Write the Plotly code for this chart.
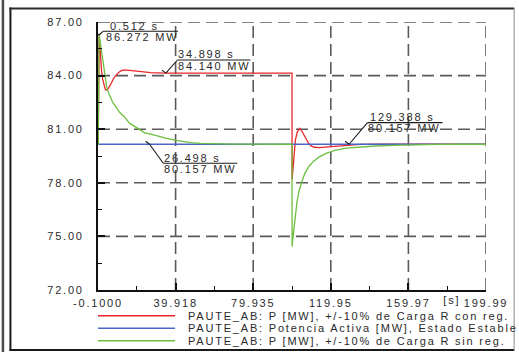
import plotly.graph_objects as go

# ---------------- data ----------------
series_names = [
    "PAUTE_AB: P [MW], +/-10% de Carga R con reg.",
    "PAUTE_AB: Potencia Activa [MW], Estado Estable",
    "PAUTE_AB: P [MW], +/-10% de Carga R sin reg.",
]

t_con = [-0.1, 0.0, 0.512, 0.8, 1.2, 1.7, 2.3, 3.0, 3.7, 4.2, 5.0, 6.0, 7.0, 8.0, 9.0,
         10.0, 11.0, 12.0, 13.5, 15.0, 18.0, 22.0, 27.0, 34.898, 60.0, 99.95,
         100.0, 100.3, 100.8, 101.7, 102.7, 103.9, 105.0, 106.0, 107.2, 108.5, 110.0,
         111.5, 114.0, 116.5, 120.0, 124.0, 129.388, 135.0, 145.0, 160.0, 199.99]
p_con = [80.157, 80.157, 86.272, 85.7, 85.0, 84.3, 83.8, 83.4, 83.22, 83.19, 83.25, 83.42,
         83.65, 83.85, 84.0, 84.13, 84.22, 84.28, 84.32, 84.31, 84.27, 84.22, 84.17, 84.14,
         84.14, 84.14,
         78.2, 78.6, 79.6, 80.4, 80.85, 81.05, 80.9, 80.68, 80.42, 80.21, 80.05,
         79.99, 79.97, 79.99, 80.04, 80.08, 80.13, 80.15, 80.157, 80.157, 80.157]

t_est = [-0.1, 199.99]
p_est = [80.157, 80.157]

t_sin = [-0.1, 0.0, 0.512, 1.0, 1.6, 2.2, 2.7, 3.5, 4.4, 5.5, 6.5, 7.5, 9.5, 11.0, 13.5,
         16.0, 18.2, 21.0, 24.0, 27.0, 30.0, 35.4, 40.0, 44.0, 48.0, 52.6, 60.0, 70.0, 99.95,
         100.0, 100.3, 100.7, 101.5, 102.5, 103.5, 104.8, 106.5, 108.5, 111.0, 114.0,
         117.5, 122.0, 128.0, 135.0, 143.0, 152.0, 162.0, 175.0, 188.0, 199.99]
p_sin = [80.157, 80.157, 86.272, 85.9, 85.3, 84.8, 84.45, 83.9, 83.35, 83.0, 82.75, 82.5,
         82.2, 81.95, 81.7, 81.35, 81.2, 81.0, 80.8, 80.72, 80.62, 80.48, 80.37, 80.3,
         80.25, 80.21, 80.18, 80.165, 80.157,
         74.43, 74.8, 75.2, 76.0, 76.9, 77.5, 78.0, 78.5, 78.9, 79.2, 79.45,
         79.65, 79.82, 79.94, 80.01, 80.06, 80.1, 80.13, 80.15, 80.157, 80.157]

x_tick_vals = [-0.1, 39.918, 79.935, 119.95, 159.97, 199.99]
x_tick_text = ["-0.1000", "39.918", "79.935", "119.95", "159.97", "199.99"]
x_unit = "[s]"
y_tick_vals = [72.0, 75.0, 78.0, 81.0, 84.0, 87.0]
y_tick_text = ["72.00", "75.00", "78.00", "81.00", "84.00", "87.00"]

label_t = [0.512, 34.898, 26.498, 129.388]
label_v = [86.272, 84.140, 80.157, 80.157]
label_t_text = ["0.512 s", "34.898 s", "26.498 s", "129.388 s"]
label_v_text = ["86.272 MW", "84.140 MW", "80.157 MW", "80.157 MW"]

# ---------------- styling / layout ----------------
W, H = 519, 352
L, T = 98.0, 22.0
PW, PH = 387.7, 268.0
R = W - L - PW
B = H - T - PH

colors = ["#e8262a", "#4a66c8", "#6cbf3e"]
FONT = "Liberation Sans, Arial, sans-serif"
TXT = "#2a2a2a"
GRID = "#5a5a5a"


def px_x(px):
    return (px - L) / PW


def px_y(py):
    return (T + PH - py) / PH


fig = go.Figure()
for t, p, c, n in zip([t_con, t_est, t_sin], [p_con, p_est, p_sin], colors, series_names):
    fig.add_trace(go.Scatter(x=t, y=p, mode="lines", name=n,
                             line=dict(color=c, width=1.3), showlegend=False,
                             hoverinfo="skip"))

shapes = []
# dashed grid (from tick lists)
for yv in y_tick_vals[1:]:
    shapes.append(dict(type="line", xref="x", yref="y", x0=x_tick_vals[0], x1=x_tick_vals[-1],
                       y0=yv, y1=yv, layer="below",
                       line=dict(color=GRID, width=1.6, dash="12px,6px")))
for xv in x_tick_vals[1:]:
    shapes.append(dict(type="line", xref="x", yref="y", x0=xv, x1=xv,
                       y0=y_tick_vals[0], y1=y_tick_vals[-1], layer="below",
                       line=dict(color=GRID, width=1.6, dash="12px,6px")))

# value labels (leader, small tick, separator, two text lines)
# (dx, dy) = separator start offset from the point in px (dy positive = downwards)
offsets = [(3.8, -3.7, 75, 6, 2), (11.6, -13.1, 73, 0, 0), (13.7, 19.0, 74, 0, 0),
           (18.4, -21.6, 75, 2, 0)]
annotations = []
for tv, vv, tt, vt, (dx, dy, ln, ind1, ind2) in zip(label_t, label_v, label_t_text,
                                                       label_v_text, offsets):
    common = dict(xref="x", yref="y", xsizemode="pixel", ysizemode="pixel",
                  xanchor=tv, yanchor=vv, layer="above")
    shapes.append(dict(type="line", x0=0, y0=0, x1=dx, y1=-dy,
                       line=dict(color="#1a1a1a", width=1.1), **common))
    shapes.append(dict(type="line", x0=-4, y0=3, x1=0, y1=0,
                       line=dict(color="#1a1a1a", width=1.1), **common))
    shapes.append(dict(type="line", x0=dx, y0=-dy, x1=dx + ln, y1=-dy,
                       line=dict(color="#1a1a1a", width=1.1), **common))
    annotations.append(dict(x=tv, y=vv, xref="x", yref="y", text=tt, showarrow=False,
                            xanchor="left", yanchor="bottom", align="left",
                            xshift=dx + ind1, yshift=-dy - 1.5, borderpad=0,
                            font=dict(family=FONT, size=11, color=TXT)))
    annotations.append(dict(x=tv, y=vv, xref="x", yref="y", text=vt, showarrow=False,
                            xanchor="left", yanchor="top", align="left",
                            xshift=dx + ind2, yshift=-dy + 1.5, borderpad=0,
                            font=dict(family=FONT, size=11, color=TXT)))

# unit label next to last x tick
annotations.append(dict(x=x_tick_vals[-1], y=y_tick_vals[0], xref="x", yref="y", text=x_unit,
                        showarrow=False, xanchor="center", yanchor="middle",
                        xshift=-34, yshift=-9.5,
                        font=dict(family=FONT, size=11, color=TXT)))

# manual legend
leg_y = [315.7, 328.2, 340.7]
for n, c, yy in zip(series_names, colors, leg_y):
    shapes.append(dict(type="line", xref="paper", yref="paper", x0=px_x(98), x1=px_x(175),
                       y0=px_y(yy), y1=px_y(yy), line=dict(color=c, width=1.4)))
    annotations.append(dict(x=px_x(187), y=px_y(yy), xref="paper", yref="paper", text=n,
                            showarrow=False, xanchor="left", yanchor="middle", align="left",
                            borderpad=0, font=dict(family=FONT, size=11, color=TXT)))

# frame
shapes.append(dict(type="line", xref="paper", yref="paper", x0=px_x(3), x1=px_x(3),
                   y0=px_y(0), y1=px_y(352), line=dict(color="#4a4a4a", width=2.5)))
shapes.append(dict(type="line", xref="paper", yref="paper", x0=px_x(10.5), x1=px_x(10.5),
                   y0=px_y(7.5), y1=px_y(350.5), line=dict(color="#1a1a1a", width=2)))
shapes.append(dict(type="line", xref="paper", yref="paper", x0=px_x(9.5), x1=px_x(514),
                   y0=px_y(8.5), y1=px_y(8.5), line=dict(color="#2a2a2a", width=2)))
shapes.append(dict(type="line", xref="paper", yref="paper", x0=px_x(9.5), x1=px_x(514),
                   y0=px_y(350), y1=px_y(350), line=dict(color="#1a1a1a", width=2.2)))
shapes.append(dict(type="line", xref="paper", yref="paper", x0=px_x(513.8), x1=px_x(513.8),
                   y0=px_y(8), y1=px_y(350), line=dict(color="#8a8a8a", width=1)))

x_minor = [(a + b) / 2 for a, b in zip(x_tick_vals[:-1], x_tick_vals[1:])]
y_minor = [(a + b) / 2 for a, b in zip(y_tick_vals[:-1], y_tick_vals[1:])]

axis_common = dict(showline=True, linecolor="#111", linewidth=2, ticks="inside", ticklen=7,
                   tickwidth=1.5, tickcolor="#111", showgrid=False, zeroline=False,
                   automargin=False, tickfont=dict(family=FONT, size=11, color=TXT))

fig.update_layout(
    width=W, height=H, autosize=False,
    margin=dict(l=L, r=R, t=T, b=B, pad=0),
    paper_bgcolor="white", plot_bgcolor="white",
    showlegend=False,
    xaxis=dict(range=[x_tick_vals[0], x_tick_vals[-1]], tickmode="array",
               tickvals=x_tick_vals, ticktext=x_tick_text, ticklabelstandoff=2,
               minor=dict(tickvals=x_minor, ticks="inside", ticklen=4, tickwidth=1.2,
                          tickcolor="#111", showgrid=False),
               **axis_common),
    yaxis=dict(range=[y_tick_vals[0], y_tick_vals[-1]], tickmode="array",
               tickvals=y_tick_vals, ticktext=y_tick_text, ticklabelstandoff=10,
               minor=dict(tickvals=y_minor, ticks="inside", ticklen=4, tickwidth=1.2,
                          tickcolor="#111", showgrid=False),
               **axis_common),
    shapes=shapes,
    annotations=annotations,
)

post = ("var s=document.createElement('style');"
        "s.innerHTML='svg text{letter-spacing:1.8px;}';"
        "document.head.appendChild(s);")

fig.write_html("out.html", post_script=post)
